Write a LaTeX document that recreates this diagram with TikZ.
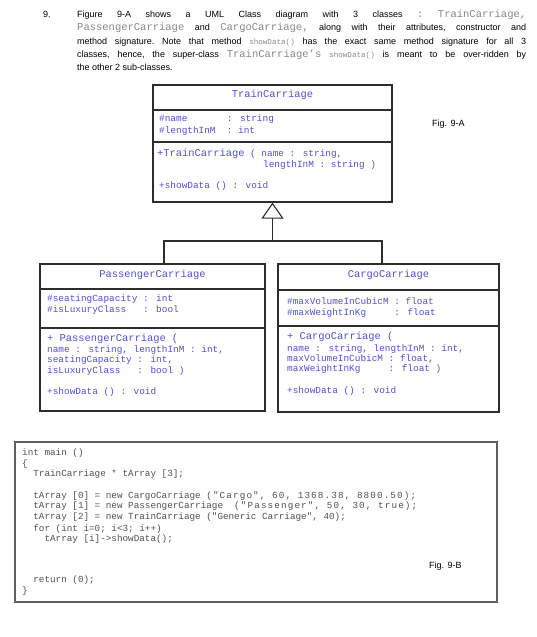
\documentclass[tikz,border=0pt]{standalone}
\usepackage{fontspec}
\setmainfont{Liberation Sans}
\newfontfamily\mono{Liberation Mono}
\newfontfamily\monowide[LetterSpace=12]{Liberation Mono}
\usetikzlibrary{arrows.meta}
\definecolor{umlblue}{RGB}{80,80,215}
\definecolor{codegray}{RGB}{80,80,80}
\definecolor{monogray}{RGB}{135,135,135}
\definecolor{edgecol}{RGB}{45,45,45}
\newcommand\gm[1]{{\mono\fontsize{10.5}{13.3}\selectfont\color{monogray}#1}}
\newcommand\gs[1]{{\mono\fontsize{7.6}{13.3}\selectfont\color{monogray}#1}}
\newcommand\umlbig[1]{{\fontsize{10.4}{10.7}\selectfont #1}}
\newcommand\wideargs[1]{{\monowide\fontsize{9.3}{10.5}\selectfont #1}}
\begin{document}
\begin{tikzpicture}[x=1pt,y=-1pt,
  umlbox/.style={draw=edgecol, line width=1.2pt, inner sep=0, rectangle, fill=none},
  sepline/.style={draw=edgecol, line width=1.1pt},
  utitle/.style={font=\mono\fontsize{10.4}{12}\selectfont, text=umlblue, anchor=base, inner sep=0},
  utext/.style={font=\mono\fontsize{9.4}{10.7}\selectfont, text=umlblue, anchor=base west, inner sep=0},
  code/.style={font=\mono\fontsize{9.3}{10.5}\selectfont, text=codegray, anchor=base west, inner sep=0},
  lbl/.style={font=\fontsize{9}{11}\selectfont, anchor=base west, inner sep=0},
  inh/.style={draw=edgecol, line width=1.1pt}
]
\useasboundingbox (0,0) rectangle (536,637);

% question text
\node[lbl] (num) at (43,17.5) {9.};
\node[lbl] (para) at (77,17.5) {\parbox[t]{449pt}{\fontsize{9}{13.3}\selectfont\frenchspacing
Figure 9-A shows a UML Class diagram with 3 classes \gm{:} \gm{TrainCarriage,}\linebreak
\gm{PassengerCarriage} and \gm{CargoCarriage,} along with their attributes, constructor and\linebreak
method signature. Note that method \gs{showData()} has the exact same method signature for all 3\linebreak
classes, hence, the super-class \gm{TrainCarriage’s} \gs{showData()} is meant to be over-ridden by\linebreak
the other 2 sub-classes.}};

% TrainCarriage
\node[umlbox, minimum width=239pt, minimum height=117pt] (tc) at (272.5,143.5) {};
\draw[sepline] (tc.west |- 0,110) -- (tc.east |- 0,110);
\draw[sepline] (tc.west |- 0,142) -- (tc.east |- 0,142);
\node[utitle] (tct) at (272.5,97.5) {TrainCarriage};
\node[utext] (tca1) at (159,121) {\#name~~~~~~~: string};
\node[utext] (tca2) at (159,133) {\#lengthInM~~: int};
\node[utext] (tcc1) at (157,156) {\umlbig{+TrainCarriage} ( name : string,};
\node[utext] (tcc2) at (263,167) {lengthInM : string )};
\node[utext] (tcm) at (159,188) {+showData () : void};
\node[lbl] (figa) at (432,126) {Fig. 9-A};

% PassengerCarriage
\node[umlbox, minimum width=225pt, minimum height=147pt] (pc) at (152.5,337.5) {};
\draw[sepline] (pc.west |- 0,289) -- (pc.east |- 0,289);
\draw[sepline] (pc.west |- 0,328) -- (pc.east |- 0,328);
\node[utitle] (pct) at (152.5,277.5) {PassengerCarriage};
\node[utext] (pca1) at (47,301) {\#seatingCapacity : int};
\node[utext] (pca2) at (47,312) {\#isLuxuryClass~~~: bool};
\node[utext] (pcc1) at (47,341) {\umlbig{+ PassengerCarriage (}};
\node[utext] (pcc2) at (47,352) {name : string, lengthInM : int,};
\node[utext] (pcc3) at (47,362) {seatingCapacity : int,};
\node[utext] (pcc4) at (47,373) {isLuxuryClass~~~: bool )};
\node[utext] (pcm) at (47,394) {+showData () : void};

% CargoCarriage
\node[umlbox, minimum width=221pt, minimum height=148pt] (cc) at (388.5,338) {};
\draw[sepline] (cc.west |- 0,290) -- (cc.east |- 0,290);
\draw[sepline] (cc.west |- 0,326) -- (cc.east |- 0,326);
\node[utitle] (cct) at (388.5,277.5) {CargoCarriage};
\node[utext] (cca1) at (287,304) {\#maxVolumeInCubicM : float};
\node[utext] (cca2) at (287,315) {\#maxWeightInKg~~~~~: float};
\node[utext] (ccc1) at (287,339) {\umlbig{+ CargoCarriage (}};
\node[utext] (ccc2) at (287,351) {name : string, lengthInM : int,};
\node[utext] (ccc3) at (287,361) {maxVolumeInCubicM : float,};
\node[utext] (ccc4) at (287,371) {maxWeightInKg~~~~~: float )};
\node[utext] (ccm) at (287,393) {+showData () : void};

% inheritance
\coordinate (pj) at (164,241);
\coordinate (cj) at (382,241);
\coordinate (tj) at (272.5,241);
\draw[inh] (pc.north -| pj) -- (pj) -- (cj) -- (cc.north -| cj);
\draw[inh, -{Triangle[open, width=22pt, length=16pt, fill=white]}] (tj) -- (tc.south);

% code box
\node[draw={rgb,255:red,95;green,95;blue,95}, line width=2pt, minimum width=482pt, minimum height=160pt, inner sep=0] (cb) at (256,522) {};
\node[code] (l1) at (22,455) {int main ()};
\node[code] (l2) at (22,466) {\{};
\node[code] (l3) at (22,476) {~~TrainCarriage * tArray [3];};
\node[code] (l4) at (22,498) {~~tArray [0] = new CargoCarriage~\wideargs{("Cargo", 60, 1368.38, 8800.50);}};
\node[code] (l5) at (22,508) {~~tArray [1] = new PassengerCarriage~~\wideargs{("Passenger", 50, 30, true);}};
\node[code] (l6) at (22,519) {~~tArray [2] = new TrainCarriage ("Generic Carriage", 40);};
\node[code] (l7) at (22,531) {~~for (int i=0; i<3; i++)};
\node[code] (l8) at (22,541) {~~~~tArray [i]->showData();};
\node[code] (l9) at (22,582) {~~return (0);};
\node[code] (l10) at (22,593) {\}};
\node[lbl] (figb) at (429,568) {Fig. 9-B};
\end{tikzpicture}
\end{document}
